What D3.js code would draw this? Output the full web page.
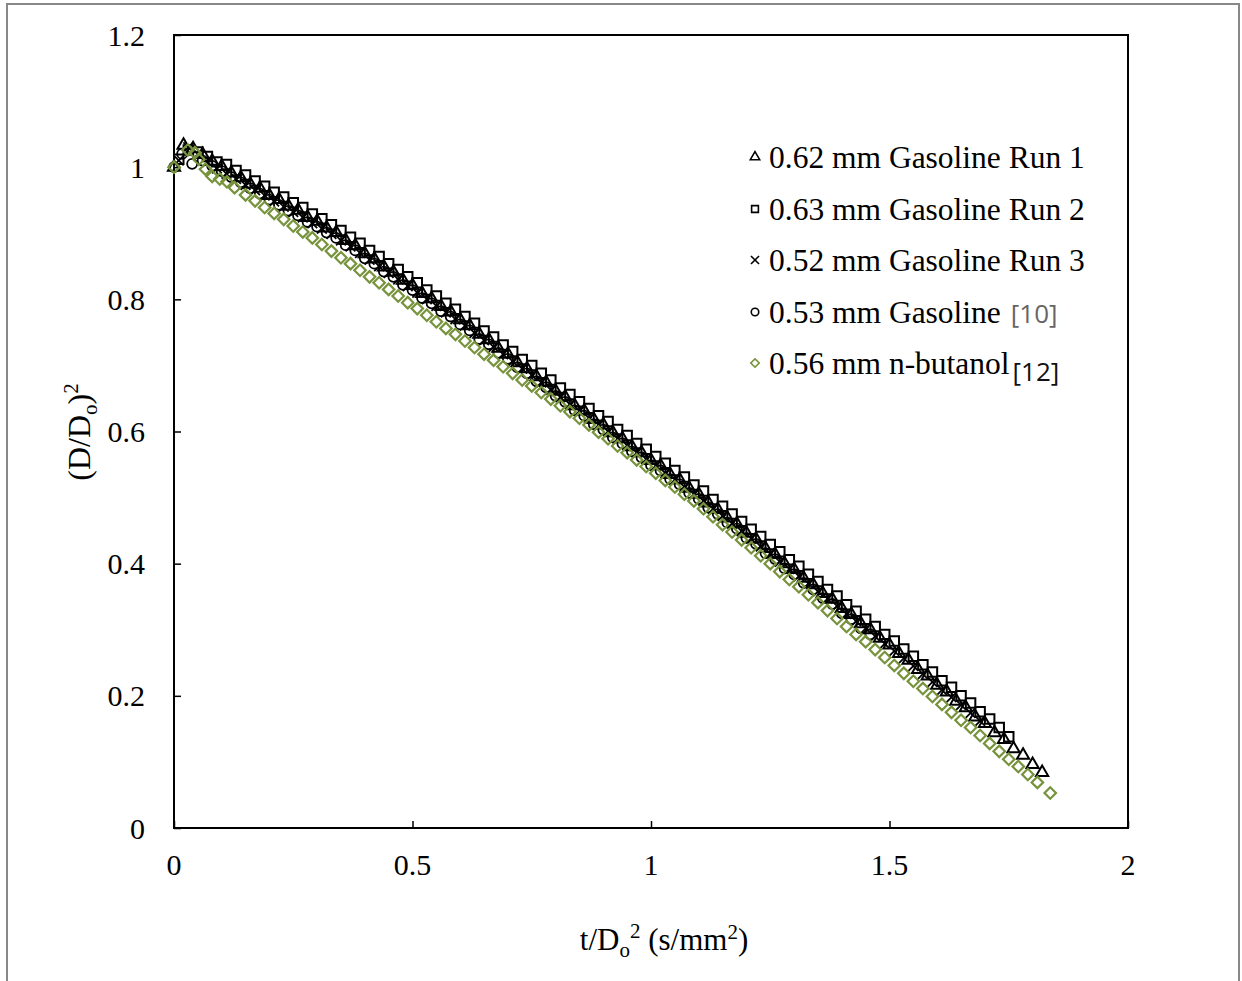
<!DOCTYPE html>
<html>
<head>
<meta charset="utf-8">
<script src="https://cdn.jsdelivr.net/npm/d3@7"></script>
<style>
  body { margin: 0; background: #fff; }
  svg { display: block; }
  .tick-label, .legend-text, .axis-title { font-family: "Liberation Serif", "Times New Roman", serif; fill: #000; }
</style>
</head>
<body>
<svg></svg>
<script>
// droplet data: [t/Do^2, (D/Do)^2]
const run1 = [[0,1.000],[0.02,1.033],[0.04,1.028],[0.06,1.019],[0.08,1.009],[0.10,1.001],[0.12,0.991],[0.14,0.984],[0.16,0.974],[0.18,0.968],[0.20,0.957],[0.22,0.951],[0.24,0.941],[0.26,0.935],[0.28,0.924],[0.30,0.918],[0.32,0.908],[0.34,0.901],[0.36,0.889],[0.38,0.881],[0.40,0.869],[0.42,0.861],[0.44,0.849],[0.46,0.841],[0.48,0.829],[0.50,0.821],[0.52,0.809],[0.54,0.801],[0.56,0.789],[0.58,0.781],[0.60,0.769],[0.62,0.760],[0.64,0.747],[0.66,0.739],[0.68,0.726],[0.70,0.717],[0.72,0.704],[0.74,0.695],[0.76,0.683],[0.78,0.674],[0.80,0.661],[0.82,0.652],[0.84,0.639],[0.86,0.631],[0.88,0.618],[0.90,0.610],[0.92,0.598],[0.94,0.589],[0.96,0.577],[0.98,0.568],[1.00,0.556],[1.02,0.548],[1.04,0.535],[1.06,0.527],[1.08,0.514],[1.10,0.505],[1.12,0.492],[1.14,0.482],[1.16,0.469],[1.18,0.460],[1.20,0.446],[1.22,0.437],[1.24,0.423],[1.26,0.414],[1.28,0.400],[1.30,0.391],[1.32,0.378],[1.34,0.368],[1.36,0.355],[1.38,0.346],[1.40,0.332],[1.42,0.323],[1.44,0.309],[1.46,0.300],[1.48,0.287],[1.50,0.277],[1.52,0.264],[1.54,0.254],[1.56,0.240],[1.58,0.230],[1.60,0.216],[1.62,0.206],[1.64,0.192],[1.66,0.182],[1.68,0.168],[1.70,0.158],[1.72,0.144],[1.74,0.134],[1.76,0.120],[1.78,0.110],[1.80,0.096],[1.82,0.084]];

const run2 = [[0.01,1.012],[0.03,1.026],[0.05,1.023],[0.07,1.016],[0.09,1.008],[0.11,1.004],[0.13,0.995],[0.15,0.988],[0.17,0.979],[0.19,0.971],[0.21,0.962],[0.23,0.955],[0.25,0.946],[0.27,0.939],[0.29,0.929],[0.31,0.922],[0.33,0.913],[0.35,0.904],[0.37,0.894],[0.39,0.885],[0.41,0.874],[0.43,0.865],[0.45,0.854],[0.47,0.845],[0.49,0.834],[0.51,0.825],[0.53,0.814],[0.55,0.805],[0.57,0.794],[0.59,0.785],[0.61,0.774],[0.63,0.764],[0.65,0.752],[0.67,0.743],[0.69,0.731],[0.71,0.721],[0.73,0.709],[0.75,0.700],[0.77,0.688],[0.79,0.678],[0.81,0.666],[0.83,0.656],[0.85,0.645],[0.87,0.635],[0.89,0.624],[0.91,0.615],[0.93,0.603],[0.95,0.594],[0.97,0.582],[0.99,0.573],[1.01,0.562],[1.03,0.552],[1.05,0.541],[1.07,0.531],[1.09,0.519],[1.11,0.510],[1.13,0.497],[1.15,0.487],[1.17,0.475],[1.19,0.464],[1.21,0.452],[1.23,0.441],[1.25,0.429],[1.27,0.418],[1.29,0.406],[1.31,0.396],[1.33,0.384],[1.35,0.373],[1.37,0.361],[1.39,0.351],[1.41,0.338],[1.43,0.328],[1.45,0.316],[1.47,0.305],[1.49,0.293],[1.51,0.283],[1.53,0.271],[1.55,0.260],[1.57,0.247],[1.59,0.236],[1.61,0.223],[1.63,0.213],[1.65,0.200],[1.67,0.189],[1.69,0.176],[1.71,0.165],[1.73,0.152],[1.75,0.138]];

const run3 = [[0.01,1.010],[0.03,1.030],[0.05,1.020],[0.07,1.008],[0.09,0.998],[0.11,0.990],[0.13,0.982],[0.15,0.973],[0.17,0.965],[0.19,0.957],[0.21,0.948],[0.23,0.940],[0.25,0.932],[0.27,0.924],[0.29,0.915],[0.31,0.907],[0.33,0.899],[0.35,0.889],[0.37,0.880],[0.39,0.870],[0.41,0.860],[0.43,0.850],[0.45,0.840],[0.47,0.830],[0.49,0.820],[0.51,0.810],[0.53,0.800],[0.55,0.790],[0.57,0.780],[0.59,0.770],[0.61,0.760],[0.63,0.749],[0.65,0.738],[0.67,0.728],[0.69,0.717],[0.71,0.706],[0.73,0.695],[0.75,0.685],[0.77,0.674],[0.79,0.663],[0.81,0.652],[0.83,0.641],[0.85,0.631],[0.87,0.620],[0.89,0.610],[0.91,0.600],[0.93,0.589],[0.95,0.579],[0.97,0.568],[0.99,0.558],[1.01,0.548],[1.03,0.537],[1.05,0.527],[1.07,0.516],[1.09,0.505],[1.11,0.495],[1.13,0.483],[1.15,0.472],[1.17,0.461],[1.19,0.449],[1.21,0.438],[1.23,0.426],[1.25,0.415],[1.27,0.403],[1.29,0.392],[1.31,0.381],[1.33,0.370],[1.35,0.358],[1.37,0.347],[1.39,0.336],[1.41,0.324],[1.43,0.313],[1.45,0.302],[1.47,0.290],[1.49,0.279],[1.51,0.268],[1.53,0.257],[1.55,0.245],[1.57,0.233],[1.59,0.221],[1.61,0.209],[1.63,0.198],[1.65,0.186],[1.67,0.174],[1.69,0.162]];

const ref10 = [[0,1.000],[0.017,1.020],[0.038,1.005],[0.06,1.010],[0.08,1.002],[0.10,0.994],[0.12,0.985],[0.14,0.977],[0.16,0.968],[0.18,0.960],[0.20,0.951],[0.22,0.943],[0.24,0.934],[0.26,0.927],[0.28,0.917],[0.30,0.910],[0.32,0.901],[0.34,0.893],[0.36,0.882],[0.38,0.874],[0.40,0.862],[0.42,0.854],[0.44,0.842],[0.46,0.834],[0.48,0.822],[0.50,0.814],[0.52,0.802],[0.54,0.794],[0.56,0.782],[0.58,0.774],[0.60,0.762],[0.62,0.753],[0.64,0.740],[0.66,0.732],[0.68,0.719],[0.70,0.710],[0.72,0.697],[0.74,0.688],[0.76,0.676],[0.78,0.667],[0.80,0.654],[0.82,0.645],[0.84,0.632],[0.86,0.624],[0.88,0.611],[0.90,0.603],[0.92,0.591],[0.94,0.582],[0.96,0.570],[0.98,0.561],[1.00,0.549],[1.02,0.541],[1.04,0.528],[1.06,0.520],[1.08,0.507],[1.10,0.498],[1.12,0.485],[1.14,0.475],[1.16,0.462],[1.18,0.453],[1.20,0.439],[1.22,0.430],[1.24,0.416],[1.26,0.407],[1.28,0.393],[1.30,0.384],[1.32,0.371],[1.34,0.361],[1.36,0.348],[1.38,0.339],[1.40,0.325],[1.42,0.316],[1.44,0.302],[1.46,0.293]];

const butanol = [[0,1.000],[0.029,1.026],[0.044,1.022],[0.052,1.012],[0.066,0.997],[0.08,0.986],[0.096,0.982],[0.111,0.978],[0.127,0.969],[0.15,0.958],[0.17,0.949],[0.19,0.939],[0.21,0.930],[0.23,0.921],[0.25,0.911],[0.27,0.902],[0.29,0.893],[0.31,0.883],[0.33,0.873],[0.35,0.863],[0.37,0.854],[0.39,0.844],[0.41,0.834],[0.43,0.825],[0.45,0.815],[0.47,0.805],[0.49,0.795],[0.51,0.786],[0.53,0.776],[0.55,0.766],[0.57,0.756],[0.59,0.747],[0.61,0.737],[0.63,0.727],[0.65,0.717],[0.67,0.708],[0.69,0.698],[0.71,0.688],[0.73,0.678],[0.75,0.669],[0.77,0.659],[0.79,0.649],[0.81,0.639],[0.83,0.630],[0.85,0.620],[0.87,0.610],[0.89,0.599],[0.91,0.589],[0.93,0.578],[0.95,0.568],[0.97,0.557],[0.99,0.547],[1.01,0.537],[1.03,0.526],[1.05,0.516],[1.07,0.505],[1.09,0.495],[1.11,0.483],[1.13,0.471],[1.15,0.459],[1.17,0.448],[1.19,0.436],[1.21,0.424],[1.23,0.412],[1.25,0.400],[1.27,0.388],[1.29,0.376],[1.31,0.365],[1.33,0.353],[1.35,0.341],[1.37,0.329],[1.39,0.317],[1.41,0.305],[1.43,0.293],[1.45,0.282],[1.47,0.270],[1.49,0.258],[1.51,0.246],[1.53,0.234],[1.55,0.222],[1.57,0.211],[1.59,0.199],[1.61,0.187],[1.63,0.175],[1.65,0.163],[1.67,0.152],[1.69,0.140],[1.71,0.128],[1.73,0.116],[1.75,0.104],[1.77,0.093],[1.79,0.081],[1.81,0.069],[1.837,0.053]];

const seriesNames = ["0.62 mm Gasoline Run 1", "0.63 mm Gasoline Run 2", "0.52 mm Gasoline Run 3", "0.53 mm Gasoline", "0.56 mm n-butanol"];
const seriesRefs = ["", "", "", "[10]", "[12]"];
const xTicks = [0, 0.5, 1, 1.5, 2];
const yTicks = [0, 0.2, 0.4, 0.6, 0.8, 1, 1.2];

const width = 1242, height = 981;
const green = "#77933c";

const svg = d3.select("svg")
    .attr("width", width)
    .attr("height", height);

// outer chart-area border
svg.append("rect")
    .attr("x", 7).attr("y", 4)
    .attr("width", 1232).attr("height", 990)
    .attr("fill", "none")
    .attr("stroke", "#888")
    .attr("stroke-width", 2);

const x = d3.scaleLinear().domain([0, 2]).range([174, 1128]);
const y = d3.scaleLinear().domain([0, 1.2]).range([828, 35]);

// plot box
svg.append("rect")
    .attr("x", x(0)).attr("y", y(1.2))
    .attr("width", x(2) - x(0)).attr("height", y(0) - y(1.2))
    .attr("fill", "none")
    .attr("stroke", "#000")
    .attr("stroke-width", 2);

// inside ticks
svg.append("g")
    .attr("transform", `translate(${x(0)},0)`)
    .call(d3.axisRight(y).tickValues(yTicks).tickSize(7).tickFormat(""))
    .call(g => g.select(".domain").remove())
    .selectAll("line").attr("stroke-width", 1.5);

svg.append("g")
    .attr("transform", `translate(0,${y(0)})`)
    .call(d3.axisTop(x).tickValues(xTicks).tickSize(7).tickFormat(""))
    .call(g => g.select(".domain").remove())
    .selectAll("line").attr("stroke-width", 1.5);

// tick labels
svg.selectAll(".ylab")
    .data(yTicks)
    .enter().append("text")
    .attr("class", "tick-label")
    .attr("x", 145)
    .attr("y", d => y(d))
    .attr("dy", "0.35em")
    .attr("text-anchor", "end")
    .attr("font-size", 30)
    .text(d => d);

svg.selectAll(".xlab")
    .data(xTicks)
    .enter().append("text")
    .attr("class", "tick-label")
    .attr("x", d => x(d))
    .attr("y", 875)
    .attr("text-anchor", "middle")
    .attr("font-size", 30)
    .text(d => d);

// axis titles
const xt = svg.append("text")
    .attr("class", "axis-title")
    .attr("x", 664).attr("y", 950)
    .attr("text-anchor", "middle")
    .attr("font-size", 31);
xt.append("tspan").text("t/D");
xt.append("tspan").attr("font-size", 21).attr("dy", 7).text("o");
xt.append("tspan").attr("font-size", 21).attr("dy", -19).text("2");
xt.append("tspan").attr("dy", 12).text(" (s/mm");
xt.append("tspan").attr("font-size", 21).attr("dy", -11).text("2");
xt.append("tspan").attr("dy", 11).text(")");

const yt = svg.append("text")
    .attr("class", "axis-title")
    .attr("transform", "translate(90,432) rotate(-90)")
    .attr("text-anchor", "middle")
    .attr("font-size", 32);
yt.append("tspan").text("(D/D");
yt.append("tspan").attr("font-size", 21).attr("dy", 7).text("o");
yt.append("tspan").attr("dy", -7).text(")");
yt.append("tspan").attr("font-size", 21).attr("dy", -12).text("2");

// marker shapes
const triangle = d3.symbol().type(d3.symbolTriangle).size(64);
const square = d3.symbol().type(d3.symbolSquare).size(90);
const cross = d3.symbol().type(d3.symbolTimes).size(64);
const circle = d3.symbol().type(d3.symbolCircle).size(78);
const diamond = d3.symbol().type(d3.symbolSquare).size(66);

const series = [
    {data: run1, shape: triangle, color: "#000", rot: 0, sw: 2},
    {data: run2, shape: square, color: "#000", rot: 0, sw: 2},
    {data: run3, shape: cross, color: "#000", rot: 0, sw: 1.8},
    {data: ref10, shape: circle, color: "#000", rot: 0, sw: 1.8},
    {data: butanol, shape: diamond, color: green, rot: 45, sw: 2.2}
];

series.forEach(s => {
    svg.append("g")
        .selectAll("path")
        .data(s.data)
        .enter().append("path")
        .attr("d", s.shape)
        .attr("transform", d => `translate(${x(d[0])},${y(d[1])}) rotate(${s.rot})`)
        .attr("fill", "none")
        .attr("stroke", s.color)
        .attr("stroke-width", s.sw);
});

// legend
const legendShapes = [
    d3.symbol().type(d3.symbolTriangle).size(38),
    d3.symbol().type(d3.symbolSquare).size(46),
    d3.symbol().type(d3.symbolTimes).size(44),
    d3.symbol().type(d3.symbolCircle).size(44),
    d3.symbol().type(d3.symbolSquare).size(36)
];
const legendY = [157, 209, 260, 312, 363];

seriesNames.forEach((name, i) => {
    svg.append("path")
        .attr("d", legendShapes[i])
        .attr("transform", `translate(755,${legendY[i]}) rotate(${series[i].rot})`)
        .attr("fill", "none")
        .attr("stroke", series[i].color)
        .attr("stroke-width", 1.6);
    const t = svg.append("text")
        .attr("class", "legend-text")
        .attr("x", 769)
        .attr("y", legendY[i])
        .attr("dy", "0.35em")
        .attr("font-size", 31.5)
        .text(name);
    if (seriesRefs[i]) {
        t.append("tspan")
            .attr("font-family", "'Open Sans', 'Liberation Sans', sans-serif")
            .attr("font-size", 26)
            .attr("dx", i === 4 ? 3 : 10)
            .attr("dy", i === 4 ? 7 : 0)
            .attr("fill", i === 3 ? "#666" : "#111")
            .text(seriesRefs[i]);
    }
});
</script>
</body>
</html>
